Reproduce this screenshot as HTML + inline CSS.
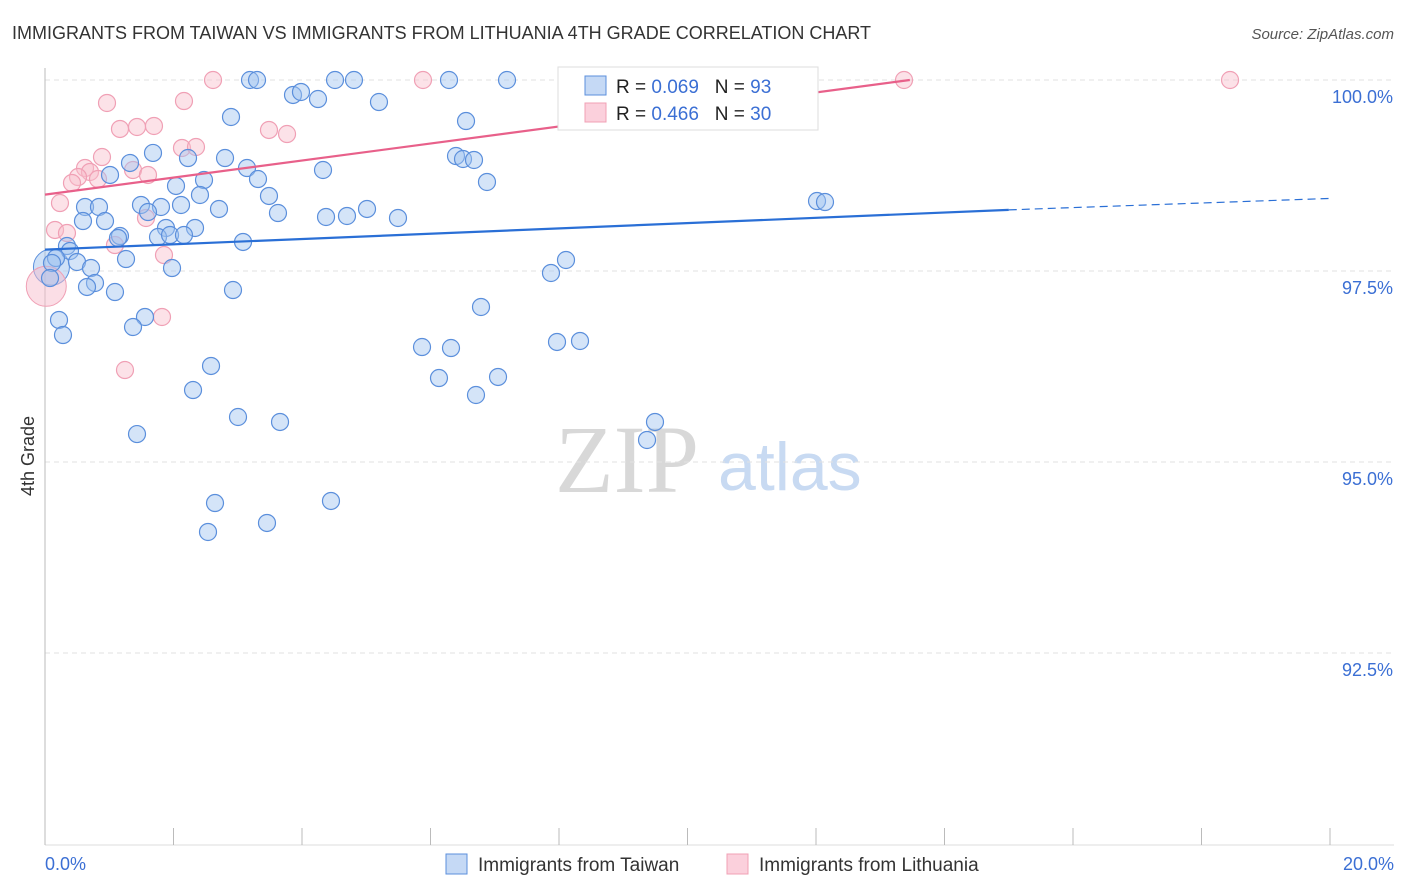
<!DOCTYPE html>
<html><head><meta charset="utf-8"><style>
body{margin:0;background:#fff;font-family:"Liberation Sans",sans-serif;}
svg{display:block}
</style></head><body>
<svg id="chart" width="1406" height="892">
<text x="12" y="39" font-size="18" fill="#333">IMMIGRANTS FROM TAIWAN VS IMMIGRANTS FROM LITHUANIA 4TH GRADE CORRELATION CHART</text>
<text x="1394" y="39" font-size="15" fill="#555" font-style="italic" text-anchor="end">Source: ZipAtlas.com</text>
<text x="34" y="456" font-size="18" fill="#333" text-anchor="middle" transform="rotate(-90 34 456)">4th Grade</text>
<text x="555" y="492" font-size="96" fill="#d8d8d8" font-family="Liberation Serif,serif">ZIP</text>
<text x="718" y="490" font-size="68" fill="#c8daf2">atlas</text>
<g id="grid"></g><g id="pts"></g><g id="lines"></g>
<g>
<rect x="558" y="67" width="260" height="63" fill="#fff" stroke="#ddd"/>
<rect x="585" y="76" width="21" height="19" fill="#c5d9f5" stroke="#5b8fdc"/>
<rect x="585" y="103" width="21" height="19" fill="#fbd0dc" stroke="#f0a0b5"/>
<text x="616" y="93" font-size="19" fill="#222">R = <tspan fill="#3b6fd4">0.069</tspan>&#160;&#160;&#160;N = <tspan fill="#3b6fd4">93</tspan></text>
<text x="616" y="120" font-size="19" fill="#222">R = <tspan fill="#3b6fd4">0.466</tspan>&#160;&#160;&#160;N = <tspan fill="#3b6fd4">30</tspan></text>
</g>
<g>
<rect x="446" y="854" width="21" height="20" fill="#c5d9f5" stroke="#5b8fdc"/>
<text x="478" y="871" font-size="19" fill="#333">Immigrants from Taiwan</text>
<rect x="727" y="854" width="21" height="20" fill="#fbd0dc" stroke="#f0a0b5"/>
<text x="759" y="871" font-size="19" fill="#333">Immigrants from Lithuania</text>
</g>
</svg>
<script>
const xTicks=[0,2,4,6,8,10,12,14,16,18,20];
const yTicks=[92.5,95,97.5,100];
const yTickLabels=["92.5%","95.0%","97.5%","100.0%"];
const taiwanPx=[[250,80],[257,80],[335,80],[354,80],[449,80],[507,80],[800,80],[293,95],[301,92],[318,99],[379,102],[231,117],[466,121],[153,153],[130,163],[188,158],[225,158],[456,156],[463,159],[474,160],[247,168],[323,170],[110,175],[176,186],[204,180],[258,179],[487,182],[200,195],[269,196],[85,207],[99,207],[141,205],[161,207],[181,205],[219,209],[278,213],[326,217],[347,216],[367,209],[398,218],[817,201],[825,202],[83,221],[105,221],[148,212],[166,228],[195,228],[158,237],[170,235],[184,235],[120,236],[118,238],[243,242],[67,246],[70,251],[56,258],[52,263],[77,262],[126,259],[91,268],[172,268],[566,260],[551,273],[50,278],[95,283],[87,287],[115,292],[233,290],[481,307],[145,317],[133,327],[59,320],[63,335],[422,347],[451,348],[557,342],[580,341],[211,366],[439,378],[498,377],[193,390],[476,395],[238,417],[280,422],[655,422],[137,434],[647,440],[215,503],[331,501],[267,523],[208,532]];
const lithuaniaPx=[[213,80],[423,80],[904,80],[1230,80],[107,103],[184,101],[269,130],[287,134],[120,129],[137,127],[154,126],[182,148],[196,147],[102,157],[85,168],[90,172],[78,177],[72,183],[98,179],[133,170],[148,175],[60,203],[55,230],[67,233],[115,245],[146,218],[164,255],[162,317],[125,370]];
// convert to data units (x in %, y in %)
const taiwanX=taiwanPx.map(p=>+((p[0]-45)/64.25).toFixed(3));
const taiwanY=taiwanPx.map(p=>+(100-(p[1]-80)/76.4).toFixed(3));
const lithX=lithuaniaPx.map(p=>+((p[0]-45)/64.25).toFixed(3));
const lithY=lithuaniaPx.map(p=>+(100-(p[1]-80)/76.4).toFixed(3));
const taiwanTrend=[97.78,98.3,98.45];
const lithTrend=[98.5,100];
const X=v=>45+v*64.25, Y=v=>80+(100-v)*76.4;
const NS="http://www.w3.org/2000/svg";
function mk(t,a,p){const e=document.createElementNS(NS,t);for(const k in a)e.setAttribute(k,a[k]);p.appendChild(e);return e;}
const grid=document.getElementById('grid');
yTicks.forEach((v,i)=>{
 const l=mk('line',{x1:45,x2:1394,y1:Y(v),y2:Y(v),stroke:'#e2e2e2','stroke-dasharray':'5,4'},grid);
 
 
 const t=mk('text',{x:1393,y:Y(v)+23,'font-size':18,fill:'#3b6fd4','text-anchor':'end'},grid);
 t.textContent=yTickLabels[i];
 
 
});
const ax=mk('line',{x1:45,x2:45,y1:68,y2:845,stroke:'#bbb'},grid);


const bx=mk('line',{x1:45,x2:1394,y1:845,y2:845,stroke:'#ddd'},grid);


xTicks.forEach(v=>{
 const l=mk('line',{x1:X(v),x2:X(v),y1:828,y2:845,stroke:'#bbb'},grid);
 
 
});
const t0=mk('text',{x:45,y:870,'font-size':18,fill:'#3b6fd4'},grid);t0.textContent=xTicks[0].toFixed(1)+'%';


const t1=mk('text',{x:1394,y:870,'font-size':18,fill:'#3b6fd4','text-anchor':'end'},grid);t1.textContent=xTicks[xTicks.length-1].toFixed(1)+'%';


const pts=document.getElementById('pts');
let b1=mk('circle',{cx:X(0.1),cy:Y(97.55),r:18,fill:'rgba(160,195,240,0.5)',stroke:'#5b8fdc'},pts);


let p1=mk('circle',{cx:X(0.02),cy:Y(97.3),r:20,fill:'rgba(248,190,205,0.5)',stroke:'#f0a0b5'},pts);


lithX.forEach((x,i)=>{
 const c=mk('circle',{cx:X(x),cy:Y(lithY[i]),r:8.5,fill:'rgba(248,190,205,0.45)',stroke:'#f0a0b5','stroke-width':1.2},pts);
 
 
});
taiwanX.forEach((x,i)=>{
 const c=mk('circle',{cx:X(x),cy:Y(taiwanY[i]),r:8.5,fill:'rgba(160,195,240,0.45)',stroke:'#5b8fdc','stroke-width':1.2},pts);
 
 
});
const lines=document.getElementById('lines');
let a=mk('line',{x1:X(0),y1:Y(taiwanTrend[0]),x2:X(15),y2:Y(taiwanTrend[1]),stroke:'#2a6fd6','stroke-width':2.2},lines);


let b=mk('line',{x1:X(15),y1:Y(taiwanTrend[1]),x2:X(20),y2:Y(taiwanTrend[2]),stroke:'#2a6fd6','stroke-width':1.2,'stroke-dasharray':'8,5'},lines);


let c=mk('line',{x1:X(0),y1:Y(lithTrend[0]),x2:X(13.46),y2:Y(lithTrend[1]),stroke:'#e8608a','stroke-width':2.2},lines);


</script>
</body></html>
